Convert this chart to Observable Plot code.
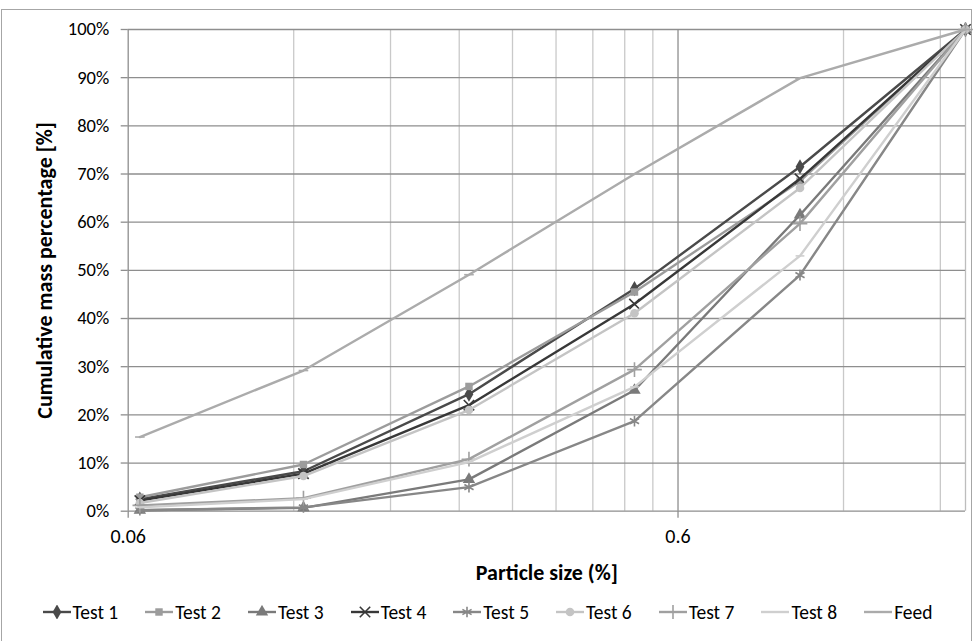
<!DOCTYPE html>
<html><head><meta charset="utf-8">
<script src="https://cdn.jsdelivr.net/npm/d3@7"></script>
<script src="https://cdn.jsdelivr.net/npm/@observablehq/plot@0.6"></script>
<style>
html,body{margin:0;padding:0;background:#fff;}
body{font-family:Carlito,Calibri,Lato,"Open Sans",sans-serif;}
#wrap{position:relative;width:974px;height:641px;overflow:hidden;}
#frame{position:absolute;left:1px;top:9px;width:971px;height:640px;border:1px solid #a6a6a6;box-sizing:border-box;}
#chart{position:absolute;left:0;top:0;}
#legend{position:absolute;left:0;top:600px;width:974px;height:24px;display:flex;justify-content:center;align-items:center;font-size:19.5px;color:#000;}
.item{display:flex;align-items:center;margin:0 13px;}
.item svg{display:block;margin-right:1px;}
</style></head>
<body>
<div id="wrap"><div id="frame"></div><div id="chart"></div><div id="legend"></div></div>
<script>
// ---- data ----
const sizes = [0.063, 0.125, 0.25, 0.5, 1, 2];
const seriesNames = ["Test 1","Test 2","Test 3","Test 4","Test 5","Test 6","Test 7","Test 8","Feed"];
const test1 = [2.5, 8.3, 24.3, 46.2, 71.5, 100];
const test2 = [2.9, 9.7, 25.9, 45.5, 68.5, 100];
const test3 = [0.2, 0.7, 6.6, 25.1, 61.5, 100];
const test4 = [2.2, 7.8, 22.0, 43.0, 69.0, 100];
const test5 = [0.2, 0.8, 5.0, 18.7, 49.0, 100];
const test6 = [1.7, 7.3, 21.0, 41.1, 67.1, 100];
const test7 = [1.2, 2.7, 10.8, 29.4, 59.7, 100];
const test8 = [0.8, 2.5, 10.2, 25.8, 53.0, 100];
const feed  = [15.4, 29.2, 49.1, 70.0, 89.9, 100];
const yTicks = [0,10,20,30,40,50,60,70,80,90,100];
const xTickLabels = [0.06, 0.6];
const xMinorGrid = [0.12,0.18,0.24,0.3,0.36,0.42,0.48,0.54,1.2,1.8];
const xDomain = [0.06, 2];

// ---- styles ----
const colors = ["#4a4a4a","#9c9c9c","#7a7a7a","#383838","#878787","#c4c4c4","#a0a0a0","#cfcfcf","#ababab"];
const dashShort = {draw(ctx, size){const r=Math.sqrt(size/Math.PI); ctx.moveTo(-r*1.1,0); ctx.lineTo(r*1.1,0);}};
const dashLong = {draw(ctx, size){const r=Math.sqrt(size/Math.PI); ctx.moveTo(-r*1.6,0); ctx.lineTo(r*1.6,0);}};
const markers = [
  {symbol:"diamond", filled:true, r:4.6},
  {symbol:"square", filled:true, r:4.2},
  {symbol:"triangle", filled:true, r:4.6},
  {symbol:"times", filled:false, r:4.8},
  {symbol:"asterisk", filled:false, r:5},
  {symbol:"circle", filled:true, r:4.3},
  {symbol:"plus", filled:false, r:4.8},
  {symbol:dashShort, filled:false, r:4},
  {symbol:dashLong, filled:false, r:3}
];
const allValues = [test1,test2,test3,test4,test5,test6,test7,test8,feed];
const rows = [];
seriesNames.forEach((s,i)=>sizes.forEach((x,j)=>rows.push({series:s, idx:i, size:x, value:allValues[i][j]})));

const W=974, H=590;
const marks = [
  Plot.ruleX(xMinorGrid, {stroke:"#c9c9c9", strokeWidth:1.3}),
  Plot.ruleX([2], {stroke:"#bdbdbd", strokeWidth:1.3}),
  Plot.ruleY(yTicks, {stroke:"#8e8e8e", strokeWidth:1.3}),
  Plot.ruleX(xTickLabels, {stroke:"#8e8e8e", strokeWidth:1.3}),
  Plot.axisY({ticks:yTicks, tickFormat:d=>d+"%", tickSize:7, tickPadding:12, stroke:"#8e8e8e", strokeWidth:1.3, fill:"#000", fontSize:18.5, label:null}),
  Plot.axisX({ticks:xTickLabels, tickFormat:d=>String(d), tickSize:7, tickPadding:11, stroke:"#8e8e8e", strokeWidth:1.3, fill:"#000", fontSize:20, label:null}),
  Plot.text(["Cumulative mass percentage [%]"], {frameAnchor:"left", dx:-83, rotate:-90, textAnchor:"middle", lineAnchor:"middle", fontWeight:"bold", fontSize:22, fill:"#000"}),
  Plot.text(["Particle size (%]"], {frameAnchor:"bottom", dy:62, textAnchor:"middle", lineAnchor:"middle", fontWeight:"bold", fontSize:22, fill:"#000"})
];
seriesNames.forEach((s,i)=>{
  const data = rows.filter(r=>r.idx===i);
  marks.push(Plot.line(data, {x:"size", y:"value", stroke:colors[i], strokeWidth:2.4, strokeLinejoin:"round", strokeLinecap:"round"}));
  const m = markers[i];
  marks.push(Plot.dot(data, m.filled
    ? {x:"size", y:"value", symbol:m.symbol, r:m.r, fill:colors[i], stroke:"none"}
    : {x:"size", y:"value", symbol:m.symbol, r:m.r, stroke:colors[i], strokeWidth:1.6, fill:"none"}));
});

const chart = Plot.plot({
  width:W, height:H,
  marginLeft:127.7, marginRight:9, marginTop:29, marginBottom:H-510.7,
  style:{fontFamily:"Carlito,Calibri,Lato,'Open Sans',sans-serif", fontSize:"16px", color:"#000", background:"transparent", overflow:"visible"},
  x:{type:"log", domain:xDomain},
  y:{domain:[0,100]},
  marks
});
document.getElementById("chart").appendChild(chart);

// ---- legend ----
const leg = document.getElementById("legend");
seriesNames.forEach((s,i)=>{
  const item = document.createElement("div"); item.className="item";
  const sv = d3.create("svg").attr("width",30).attr("height",14);
  sv.append("line").attr("x1",1).attr("x2",29).attr("y1",7).attr("y2",7).attr("stroke",colors[i]).attr("stroke-width",2.4);
  const m = markers[i];
  const symMap = {times:d3.symbolTimes, asterisk:d3.symbolAsterisk, circle:d3.symbolCircle, plus:d3.symbolPlus, diamond:d3.symbolDiamond, square:d3.symbolSquare, triangle:d3.symbolTriangle};
  const symType = typeof m.symbol === "string" ? symMap[m.symbol] : m.symbol;
  const p = d3.symbol(symType, Math.PI*m.r*m.r)();
  const path = sv.append("path").attr("d",p).attr("transform","translate(15,7)");
  if (m.filled) path.attr("fill",colors[i]); else path.attr("fill","none").attr("stroke",colors[i]).attr("stroke-width",1.6);
  item.appendChild(sv.node());
  const t = document.createElement("span"); t.textContent = s; item.appendChild(t);
  leg.appendChild(item);
});
</script>
</body></html>
